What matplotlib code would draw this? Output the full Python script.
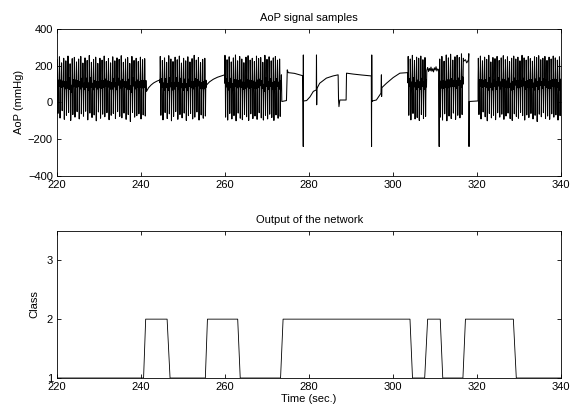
import numpy as np
import matplotlib
matplotlib.use("Agg")
import matplotlib.pyplot as plt

plt.rcParams['font.family'] = ['Liberation Sans', 'DejaVu Sans']
plt.rcParams['font.size'] = 8

# --- AoP signal: pulsatile groups (start, end, per-beat peaks / troughs in mmHg)
beat_shape = [0.55, 1.00, 0.72, 0.00, 0.42, 0.62, 0.50]  # trough->peak fraction over one beat

g1_span = (220.0, 241.3)
g1_peaks = [232, 248, 215, 240, 226, 252, 210, 238, 245, 220, 236, 250, 214, 242,
            228, 255, 218, 234, 246, 212, 240, 230, 252, 222, 238, 215, 248, 226,
            242, 234, 254, 218, 236, 244, 212, 250, 228, 240, 222, 246, 232, 238]
g1_troughs = [-60, -85, -45, -92, -70, -55, -98, -66, -80, -50, -90, -62, -75, -48,
              -95, -58, -82, -68, -100, -52, -86, -64, -78, -56, -94, -70, -60, -88,
              -50, -76, -84, -58, -92, -66, -104, -54, -80, -72, -62, -90, -68, -74]

g2_span = (244.5, 255.6)
g2_peaks = [250, 228, 242, 218, 254, 236, 222, 246, 232, 252, 214, 240,
            226, 248, 220, 238, 256, 230, 244, 216, 234, 240]
g2_troughs = [-70, -95, -55, -88, -62, -100, -76, -50, -92, -66, -84, -58,
              -98, -72, -60, -90, -80, -52, -96, -68, -86, -74]

g3_span = (259.9, 273.4)
g3_peaks = [256, 232, 248, 220, 242, 258, 226, 250, 236, 216, 246, 254, 230, 240,
            222, 252, 238, 244, 218, 256, 234, 248, 226, 242, 250, 230, 236]
g3_troughs = [-80, -96, -60, -90, -72, -100, -58, -86, -94, -66, -78, -98, -62, -88,
              -74, -92, -56, -84, -96, -70, -90, -64, -82, -98, -68, -86, -76]

g4_span = (303.5, 308.0)
g4_peaks = [250, 236, 256, 228, 246, 240, 252, 232, 244]
g4_troughs = [-70, -95, -60, -90, -82, -98, -66, -88, -76]

g5_span = (311.0, 316.7)
g5_peaks = [236, 250, 224, 258, 242, 262, 230, 248, 256, 244, 264]
g5_troughs = [-80, -96, -62, -100, -74, -88, -58, -92, -70, -84, -66]

g6_span = (320.2, 340.0)
g6_peaks = [240, 252, 226, 246, 234, 256, 220, 244, 238, 250, 228, 242, 254, 232,
            248, 222, 240, 252, 236, 246, 226, 256, 242, 230, 250, 238, 224, 248,
            244, 254, 232, 240, 250, 228, 246, 236, 252, 242, 230, 248]
g6_troughs = [-66, -90, -52, -78, -100, -60, -84, -70, -94, -56, -80, -64, -92, -74,
              -58, -88, -98, -62, -76, -86, -54, -72, -96, -68, -82, -60, -90, -70,
              -104, -64, -78, -56, -88, -74, -92, -62, -80, -68, -96, -72]

# --- AoP signal: non-pulsatile stretches (time in s, pressure in mmHg)
curve1_t = [241.3, 241.8, 242.4, 243.0, 243.8, 244.5]
curve1_v = [60, 80, 95, 106, 116, 122]

curve2_t = [255.6, 256.3, 257.2, 258.2, 259.2, 259.9]
curve2_v = [95, 112, 126, 137, 145, 150]

event_t = [273.4, 273.5, 274.6, 274.8, 275.0, 276.5, 278.5, 278.6, 278.62, 278.65,
           278.75, 279.4, 280.2, 281.0, 281.7, 281.75, 281.8, 281.85, 282.5, 284.1,
           285.7, 286.9, 287.0, 287.1, 287.3, 288.8, 288.9, 290.5, 292.5, 294.8,
           294.85, 294.9, 294.95, 295.05, 296.0, 297.1, 297.2, 297.25, 297.3, 298.4,
           300.0, 301.6, 303.5]
event_v = [150, 5, 10, 177, 162, 158, 145, -240, 258, 5,
           8, 10, 30, 60, 68, 258, -13, 75, 104, 132,
           144, 150, 13, -23, 13, 13, 159, 154, 149, 144,
           -240, 258, 5, 8, 13, 50, 150, 32, 80, 104,
           135, 159, 162]

band_t = [308.0, 308.2, 308.4, 308.6, 308.8, 309.0, 309.2, 309.4, 309.6, 309.8,
          310.0, 310.2, 310.4, 310.6, 310.8, 310.95, 311.0]
band_v = [175, 190, 168, 185, 172, 192, 170, 183, 166, 188,
          176, 194, 171, 182, 178, -240, 80]

step_t = [316.7, 316.8, 317.2, 317.5, 317.9, 318.0, 318.05, 318.1, 320.2]
step_v = [240, 225, 232, 215, 230, 265, -240, 5, 8]

# --- network output (class)
class_t = [220, 240.6, 241.1, 246.2, 246.9, 255.3, 255.8, 263.0, 263.6, 273.2, 273.8,
           304.0, 304.6, 307.5, 308.2, 311.2, 311.8, 316.6, 317.2, 328.6, 329.3, 340]
class_v = [1, 1, 2, 2, 1, 1, 2, 2, 1, 1, 2,
           2, 1, 1, 2, 2, 1, 1, 2, 2, 1, 1]


def beats(span, peaks, troughs):
    n = len(beat_shape)
    period = (span[1] - span[0]) / len(peaks)
    t, v = [], []
    for i, (p, q) in enumerate(zip(peaks, troughs)):
        for k, f in enumerate(beat_shape):
            t.append(span[0] + period * (i + k / n))
            v.append(q + f * (p - q))
    return t, v


pieces = [
    beats(g1_span, g1_peaks, g1_troughs),
    (curve1_t, curve1_v),
    beats(g2_span, g2_peaks, g2_troughs),
    (curve2_t, curve2_v),
    beats(g3_span, g3_peaks, g3_troughs),
    (event_t, event_v),
    beats(g4_span, g4_peaks, g4_troughs),
    (band_t, band_v),
    beats(g5_span, g5_peaks, g5_troughs),
    (step_t, step_v),
    beats(g6_span, g6_peaks, g6_troughs),
]
sig_t = np.concatenate([p[0] for p in pieces])
sig_v = np.concatenate([p[1] for p in pieces])

fig = plt.figure(figsize=(5.73, 4.18), dpi=100)
ax1 = fig.add_axes([0.0995, 0.579, 0.88, 0.352])
ax2 = fig.add_axes([0.0995, 0.0957, 0.88, 0.352])

ax1.plot(sig_t, sig_v, color='black', lw=0.75)
ax1.set_xlim(220, 340)
ax1.set_ylim(-400, 400)
ax1.set_xticks(range(220, 341, 20))
ax1.set_yticks(range(-400, 401, 200))
ax1.set_title('AoP signal samples', fontsize=8, pad=6)
ax1.set_ylabel('AoP (mmHg)', labelpad=3)

ax2.plot(class_t, class_v, color='black', lw=0.6)
ax2.set_xlim(220, 340)
ax2.set_ylim(1, 3.5)
ax2.set_xticks(range(220, 341, 20))
ax2.set_yticks([1, 2, 3])
ax2.set_title('Output of the network', fontsize=8, pad=6)
ax2.set_ylabel('Class', labelpad=5)
ax2.set_xlabel('Time (sec.)', labelpad=1)

for ax in (ax1, ax2):
    for s in ax.spines.values():
        s.set_linewidth(0.6)
    ax.tick_params(direction='in', length=3, width=0.6, top=True, right=True,
                   labelsize=8, pad=3)

fig.savefig('out.png', dpi=100)
